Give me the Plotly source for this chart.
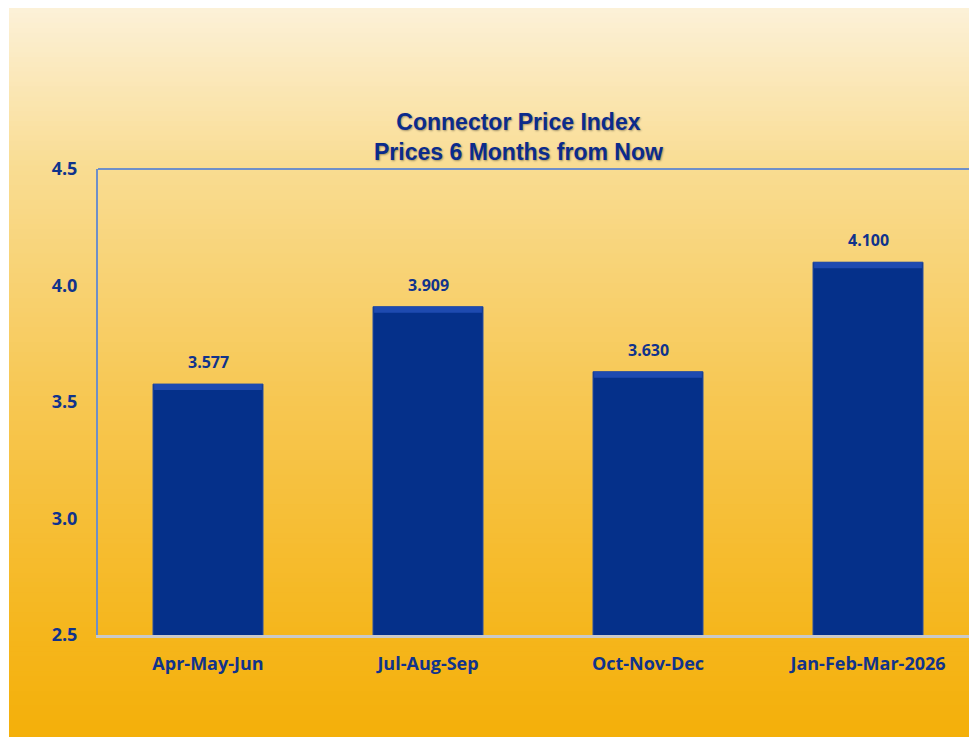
import plotly.graph_objects as go

categories = ["Apr-May-Jun", "Jul-Aug-Sep", "Oct-Nov-Dec", "Jan-Feb-Mar-2026"]
values = [3.577, 3.909, 3.630, 4.100]
y_ticks = [2.5, 3.0, 3.5, 4.0, 4.5]

# the page body adds an 8px offset; figure coordinates = screen - 8
W, H = 977, 737
L, T = 90, 161
B = H - 627
R = 7
PW = W - L - R
PH = H - T - B

TXT = "#10338C"
Y0, Y1 = 2.5, 4.5
px_per_unit = PH / (Y1 - Y0)
bevel = 6 / px_per_unit

fig = go.Figure()
fig.add_trace(go.Bar(
    x=categories, y=values, width=0.5,
    marker=dict(color="#05308A", line=dict(color="#2B4E9E", width=1)),
    hoverinfo="skip",
))
fig.add_trace(go.Bar(
    x=categories, y=[bevel] * len(values), base=[v - bevel for v in values], width=0.49,
    marker=dict(color="#1E4AB0", line=dict(width=0)),
    hoverinfo="skip",
))

stops = [(0, (252, 241, 216)), (162, (249, 220, 145)), (392, (247, 199, 82)),
         (627, (245, 182, 28)), (737, (244, 175, 8))]
def col_at(py):
    for (p0, c0), (p1, c1) in zip(stops[:-1], stops[1:]):
        if p0 <= py <= p1:
            t = (py - p0) / (p1 - p0)
            return "rgb(%d,%d,%d)" % tuple(round(a + (b - a) * t) for a, b in zip(c0, c1))
    return "rgb(%d,%d,%d)" % stops[-1][1]

shapes = []
N = 150
top_px, bot_px = 0, H
step = (bot_px - top_px) / N
for i in range(N):
    y0p = top_px + i * step
    y1p = y0p + step + 0.8
    shapes.append(dict(
        type="rect", xref="paper", yref="paper", layer="below",
        x0=(1 - L) / PW, x1=(W - L) / PW + 0.01,
        y0=(H - B - y1p) / PH, y1=(H - B - y0p) / PH,
        fillcolor=col_at(y0p + step / 2), line=dict(width=0),
    ))
shapes.append(dict(type="line", xref="paper", yref="paper", x0=0, x1=(W - L) / PW, y0=1, y1=1,
                   line=dict(color="#6F8FC8", width=2)))

annotations = []
for c, v in zip(categories, values):
    annotations.append(dict(x=c, y=v, text="<b>%.3f</b>" % v, showarrow=False,
                            yanchor="bottom", yshift=9,
                            font=dict(family="Open Sans", size=16, color=TXT)))
annotations.append(dict(xref="paper", yref="paper", x=(510 - L) / PW, y=(H - B - 129) / PH,
                        text="<b>Connector Price Index<br>Prices 6 Months from Now</b>",
                        showarrow=False, xanchor="center", yanchor="middle",
                        font=dict(family="Liberation Sans", size=23, color="#0B2B8C",
                                  shadow="1px 1px 2px rgba(0,0,0,0.35)")))

fig.update_layout(
    width=W, height=H,
    margin=dict(l=L, r=R, t=T, b=B, pad=0),
    paper_bgcolor="white", plot_bgcolor="rgba(0,0,0,0)",
    showlegend=False, barmode="overlay",
    shapes=shapes, annotations=annotations,
    xaxis=dict(showgrid=False, showline=True, linecolor="#C9C9C9", linewidth=3,
               ticks="", ticklabelstandoff=10,
               tickfont=dict(family="Open Sans", size=18, color=TXT, weight="bold")),
    yaxis=dict(range=[Y0, Y1], tickvals=y_ticks, ticktext=["%.1f" % t for t in y_ticks],
               showgrid=False, zeroline=False, showline=True, linecolor="#6F8FC8", linewidth=2,
               ticks="", ticklabelstandoff=15,
               tickfont=dict(family="Open Sans", size=18, color=TXT, weight="bold")),
)

fig.write_html("out.html")
